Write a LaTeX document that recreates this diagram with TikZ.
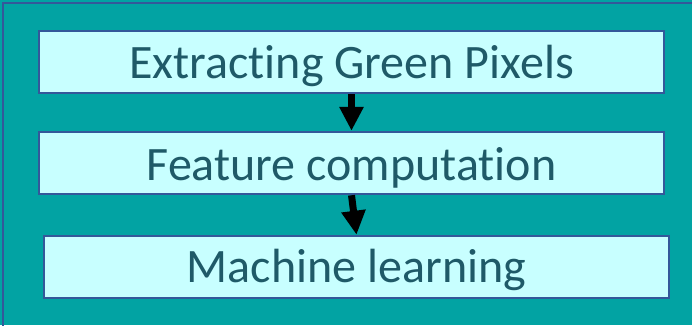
\documentclass[tikz,border=0pt]{standalone}
\usepackage{fontspec}
\setmainfont{Carlito}[Ligatures={NoCommon}]
\usetikzlibrary{arrows.meta}
\definecolor{bgteal}{HTML}{02A3A3}
\definecolor{boxfill}{HTML}{C8FFFF}
\definecolor{edgeblue}{HTML}{34589A}
\definecolor{txt}{HTML}{1F5A68}
\tikzset{
  stepbox/.style={draw=edgeblue, line width=2.5pt, fill=boxfill, inner sep=0pt,
    text=txt, font=\fontsize{48}{52}\selectfont, minimum height=62pt, text depth=0pt, text height=0pt},
  flowarrow/.style={line width=7pt, -{Triangle[width=23pt,length=24pt]}, black}
}
\begin{document}
\begin{tikzpicture}[x=1pt,y=-1pt]
\useasboundingbox (0,0) rectangle (692,325);
\fill[bgteal] (0,0) rectangle (692,325);
\draw[edgeblue, line width=2.5pt] (3,3) rectangle (710,340);
\node[stepbox, minimum width=625pt] (a) at (351.5,62) {};
\node[stepbox, minimum width=625pt] (b) at (351.5,163) {};
\node[stepbox, minimum width=625pt] (c) at (356.5,267) {};
\node[text=txt, font=\fontsize{48}{52}\selectfont, anchor=base, inner sep=0pt] (ta) at (351.5,78) {Extracting Green Pixels};
\node[text=txt, font=\fontsize{48}{52}\selectfont, anchor=base, inner sep=0pt] (tb) at (351.5,180) {Feature computation};
\node[text=txt, font=\fontsize{48}{52}\selectfont, anchor=base, inner sep=0pt] (tc) at (356.5,282) {Machine learning};
\draw[flowarrow] (a.south) -- (b.north);
\draw[flowarrow] (b.south) -- (c.north);
\end{tikzpicture}
\end{document}
